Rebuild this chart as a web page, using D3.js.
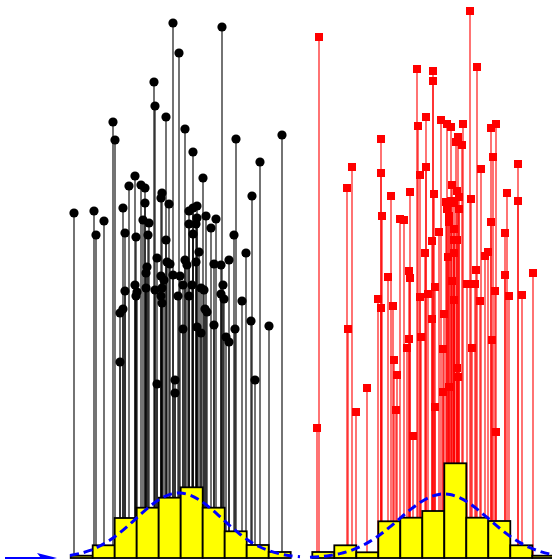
<!DOCTYPE html>
<html><head><meta charset="utf-8">
<script src="https://cdn.jsdelivr.net/npm/d3@7"></script>
<style>html,body{margin:0;padding:0;background:#fff;overflow:hidden}</style>
</head><body>
<script>
// ---- data (x position, stem height) ----
const blackX = [74,94,96,104,113,115,120,120,123,123,125,125,129,135,135,136,136,137,141,143,145,145,146,146,147,148,149,154,155,155,157,157,161,161,162,161,162,162,164,166,166,167,169,170,173,173,175,175,178,179,180,183,183,185,185,187,189,189,189,192,193,193,193,196,196,197,197,197,199,201,201,203,204,205,206,207,211,214,214,216,221,221,222,223,224,226,229,229,234,235,236,242,246,251,252,255,260,269,282];
const blackY = [345,347,323,337,436,418,196,245,249,350,325,267,372,273,382,321,262,266,373,338,370,355,285,270,291,323,335,476,452,268,300,174,282,360,270,262,365,255,278,318,441,296,354,294,535,283,178,165,262,505,282,273,229,429,298,293,347,334,262,273,406,350,324,334,296,340,352,231,306,270,225,380,268,249,342,246,330,294,233,339,293,264,531,273,259,221,298,216,323,229,419,257,305,237,362,178,396,232,423];
const redX = [317,319,347,348,352,356,367,378,381,381,381,382,388,391,393,394,396,397,400,404,407,409,409,410,410,413,417,418,420,420,421,425,426,426,428,432,432,433,433,434,435,435,439,441,443,443,444,446,447,447,448,449,449,449,451,451,452,452,454,454,454,454,454,457,457,457,458,458,459,459,456,462,463,467,470,471,472,475,476,477,480,481,485,488,491,491,492,493,495,496,496,505,505,507,509,518,518,522,533];
const redY = [130,521,370,229,391,146,170,259,419,385,250,342,281,362,252,198,148,183,339,338,210,287,219,366,280,122,489,432,383,261,221,305,441,391,264,317,239,487,477,364,271,151,326,438,209,166,244,356,349,434,301,171,342,336,431,357,373,277,355,329,318,305,258,367,190,318,421,181,361,349,416,413,434,274,547,359,210,274,288,491,257,389,302,306,430,336,218,401,267,434,126,325,283,365,262,394,357,263,285];

// histogram bins (left edge) and heights
const blackBinStart = [70.7,92.7,114.7,136.7,158.7,180.7,202.7,224.7,246.7,268.7];
const blackBinHeight = [2.3,12.7,40,50.3,60.3,70.7,50.3,26.7,13,6];
const redBinStart = [312.3,334.3,356.3,378.3,400.3,422.3,444.3,466.3,488.3,510.3,532.3];
const redBinHeight = [6,12.7,5.7,36.7,40.3,47,94.7,40.3,37,12.7,2.3];
const binWidth = 22;

// fitted density curves
const blackCurveX = [70,80,90,100,110,120,130,140,150,160,170,180,190,200,210,220,230,240,250,260,270,280,290,300];
const blackCurveY = [2.6,4.6,7.6,12.0,17.9,25.4,34.0,43.1,51.8,59.0,63.6,65.0,62.9,57.7,50.1,41.3,32.2,23.8,16.6,11.0,6.9,4.1,2.3,1.2];
const redCurveX = [310,320,330,340,350,360,370,380,390,400,410,420,430,440,450,460,470,480,490,500,510,520,530,540,550,560];
const redCurveY = [0.76,1.4,2.6,4.4,7.2,11.2,16.6,23.3,31.2,39.7,48.1,55.5,61.0,63.8,63.4,60.1,54.2,46.5,38.0,29.5,21.8,15.4,10.3,6.6,4.0,2.4];

const axisArrow = [5, 57];

// ---- drawing ----
const W = 552, H = 559;
const x = d3.scaleLinear().domain([0, 552]).range([0, W]);
const y = d3.scaleLinear().domain([0, 558]).range([558, 0]);

const svg = d3.select("body").append("svg").attr("width", W).attr("height", H);

function stems(xs, ys, color) {
  svg.append("g").selectAll("line").data(xs.map((d,i)=>[d, ys[i]])).join("line")
    .attr("x1", d=>x(d[0])).attr("x2", d=>x(d[0]))
    .attr("y1", d=>y(d[1])).attr("y2", y(0))
    .attr("stroke", color).attr("stroke-width", 1.1);
}
stems(blackX, blackY, "#000");
stems(redX, redY, "#ff0000");

svg.append("g").selectAll("circle").data(blackX.map((d,i)=>[d, blackY[i]])).join("circle")
  .attr("cx", d=>x(d[0])).attr("cy", d=>y(d[1])).attr("r", 4.6).attr("fill", "#000");

svg.append("g").selectAll("rect").data(redX.map((d,i)=>[d, redY[i]])).join("rect")
  .attr("x", d=>x(d[0])-4).attr("y", d=>y(d[1])-4).attr("width", 8).attr("height", 8)
  .attr("fill", "#ff0000");

function hist(starts, heights) {
  svg.append("g").selectAll("rect").data(starts.map((d,i)=>[d, heights[i]])).join("rect")
    .attr("x", d=>x(d[0])).attr("width", x(binWidth)-x(0))
    .attr("y", d=>y(d[1])).attr("height", d=>y(0)-y(d[1]))
    .attr("fill", "#ffff00").attr("stroke", "#000").attr("stroke-width", 1.8);
}
hist(blackBinStart, blackBinHeight);
hist(redBinStart, redBinHeight);

const line = d3.line().x(d=>x(d[0])).y(d=>y(d[1])).curve(d3.curveCatmullRom);
function curve(xs, ys) {
  svg.append("path").datum(xs.map((d,i)=>[d, ys[i]])).attr("d", line)
    .attr("fill", "none").attr("stroke", "#0000ff").attr("stroke-width", 3)
    .attr("stroke-dasharray", "9,5");
}
curve(blackCurveX, blackCurveY);
curve(redCurveX, redCurveY);

// axis arrow
const ay = y(0);
svg.append("line").attr("x1", x(axisArrow[0])).attr("x2", x(axisArrow[1]) - 15)
  .attr("y1", ay).attr("y2", ay).attr("stroke", "#0000ff").attr("stroke-width", 2);
svg.append("path")
  .attr("d", `M${x(axisArrow[1])},${ay} L${x(axisArrow[1])-20},${ay-5} L${x(axisArrow[1])-16},${ay} L${x(axisArrow[1])-20},${ay+5} Z`)
  .attr("fill", "#0000ff");
</script>
</body></html>
